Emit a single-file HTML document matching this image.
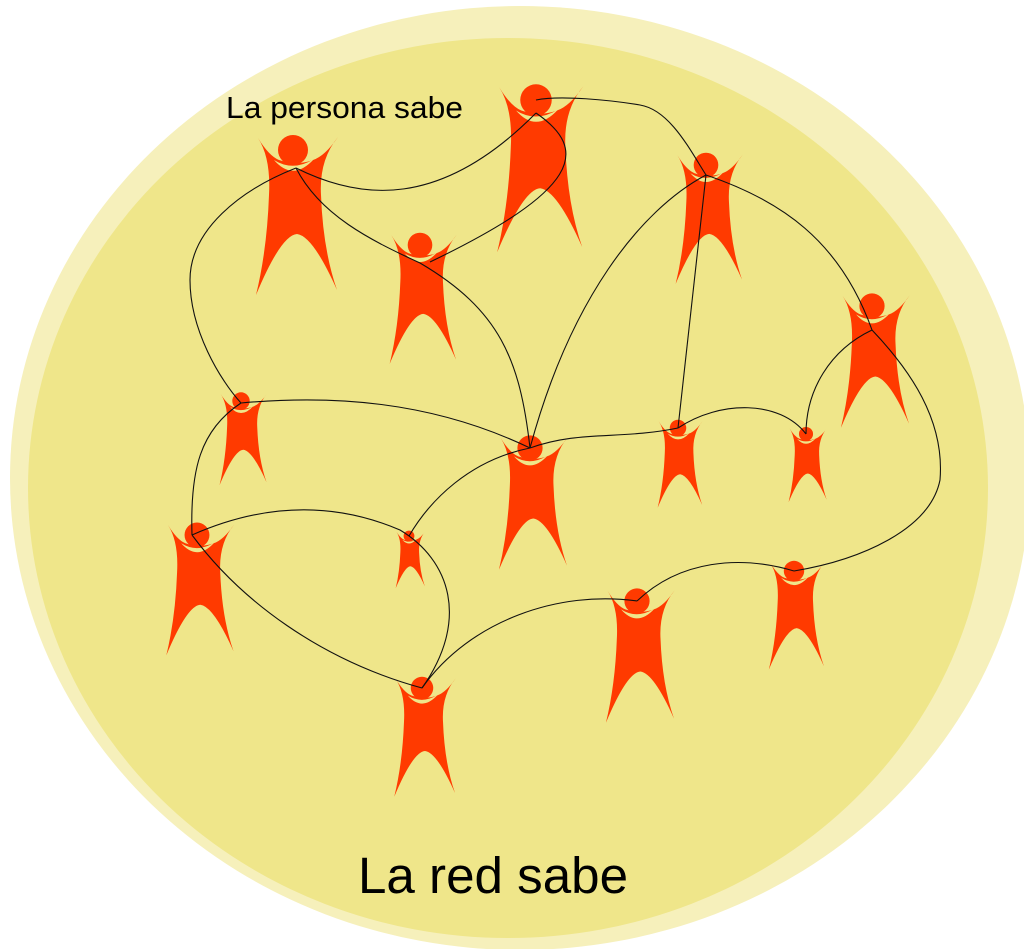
<!DOCTYPE html>
<html><head><meta charset="utf-8"><style>html,body{margin:0;padding:0;background:#fff}svg{display:block}</style></head>
<body>
<svg width="1024" height="949" viewBox="0 0 1024 949" xmlns="http://www.w3.org/2000/svg">
<defs>
<g id="p">
<path d="M-35,-12 Q-22,8 -24,45 Q-26,100 -37,145 Q-12,85 4,84 Q20,86 44,140 Q30,100 28,45 Q26,10 45,-13 Q32,6 20,10 Q4,16 -14,10 Q-24,6 -35,-12 Z" fill="#ff3a00"/>
<path d="M-19,10 Q0,32 21,9 Q0,22 -19,10 Z" fill="#efe68a"/>
<circle cx="0" cy="0" r="15" fill="#ff3a00"/>
</g>
</defs>
<ellipse cx="520" cy="478" rx="510" ry="472" fill="#f6f0bb"/>
<ellipse cx="508" cy="488" rx="480" ry="450" fill="#efe68a"/>
<g>
<use href="#p" transform="translate(293,150) scale(1)"/>
<use href="#p" transform="translate(536,100) scale(1.05)"/>
<use href="#p" transform="translate(420,245) scale(0.82)"/>
<use href="#p" transform="translate(706,165) scale(0.82)"/>
<use href="#p" transform="translate(872,306) scale(0.84)"/>
<use href="#p" transform="translate(241,401) scale(0.58)"/>
<use href="#p" transform="translate(530,448) scale(0.84)"/>
<use href="#p" transform="translate(678,428) scale(0.55)"/>
<use href="#p" transform="translate(806,434) scale(0.47)"/>
<use href="#p" transform="translate(197,535) scale(0.83)"/>
<use href="#p" transform="translate(409,536) scale(0.36)"/>
<use href="#p" transform="translate(422,688) scale(0.75)"/>
<use href="#p" transform="translate(637,601) scale(0.84)"/>
<use href="#p" transform="translate(794,571) scale(0.68)"/>
</g>
<g fill="none" stroke="#111" stroke-width="1.1">
<path d="M296,168 C360,200 440,210 536,113"/>
<path d="M536,113 C590,150 580,190 430,262"/>
<path d="M296,168 C320,215 370,240 420,263"/>
<path d="M536,100 C560,95 610,100 640,105 C670,110 690,150 706,175"/>
<path d="M296,168 C240,190 190,230 190,280 C190,330 220,380 241,403"/>
<path d="M420,263 C500,310 520,360 530,448"/>
<path d="M706,175 C640,210 570,300 530,448"/>
<path d="M706,175 L678,428"/>
<path d="M706,175 C780,200 840,240 872,330"/>
<path d="M872,330 C830,350 806,390 806,434"/>
<path d="M872,330 C910,370 945,420 940,480 C930,530 860,560 794,571"/>
<path d="M241,403 C330,395 430,400 530,448"/>
<path d="M530,448 C580,430 620,440 678,428"/>
<path d="M678,428 C720,400 780,400 806,434"/>
<path d="M241,403 C200,430 190,470 192,535"/>
<path d="M530,448 C470,460 430,500 409,536"/>
<path d="M192,535 C260,505 330,500 400,530 C450,560 470,620 422,688"/>
<path d="M192,535 C240,600 320,660 422,688"/>
<path d="M422,688 C470,620 560,590 637,601"/>
<path d="M637,601 C680,560 740,555 794,571"/>
</g>
<text x="226" y="118" font-family="Liberation Sans, sans-serif" font-size="31" textLength="237" lengthAdjust="spacingAndGlyphs" fill="#000">La persona sabe</text>
<text x="358" y="893" font-family="Liberation Sans, sans-serif" font-size="51" textLength="270" lengthAdjust="spacingAndGlyphs" fill="#000">La red sabe</text>
</svg>
</body></html>
